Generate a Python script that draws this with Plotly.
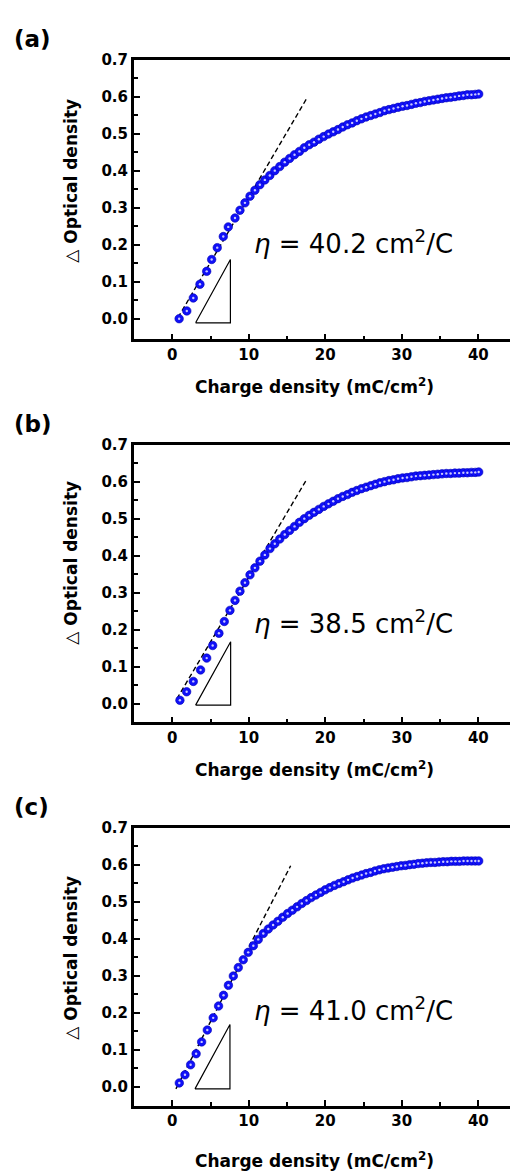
import plotly.graph_objects as go

W, H = 510, 1173

# ---- measured data: charge density (mC/cm^2) vs change in optical density ----
charge_a = [0.9, 1.9, 2.75, 3.62, 4.5, 5.15, 5.88, 6.67, 7.32, 8.2, 8.85, 9.5, 10.16, 10.8,
            11.45, 12.1, 12.75, 13.4, 14.05, 14.7, 15.34, 15.98, 16.62, 17.26, 17.9, 18.53,
            19.16, 19.79, 20.42, 21.04, 21.66, 22.28, 22.9, 23.51, 24.12, 24.73, 25.34, 25.94,
            26.54, 27.14, 27.74, 28.33, 28.92, 29.51, 30.1, 30.68, 31.26, 31.84, 32.42, 32.99,
            33.56, 34.13, 34.7, 35.26, 35.82, 36.38, 36.94, 37.49, 38.04, 38.57, 39.1, 39.6, 40.05]
od_a = [0.0, 0.021, 0.056, 0.093, 0.128, 0.160, 0.192, 0.222, 0.248, 0.272, 0.293, 0.313, 0.331, 0.347,
        0.362, 0.375, 0.387, 0.400, 0.411, 0.423, 0.433, 0.443, 0.452, 0.462, 0.470, 0.477,
        0.485, 0.492, 0.499, 0.505, 0.511, 0.518, 0.524, 0.529, 0.535, 0.540, 0.545, 0.549,
        0.553, 0.557, 0.562, 0.565, 0.568, 0.571, 0.574, 0.576, 0.579, 0.582, 0.584, 0.587,
        0.589, 0.591, 0.593, 0.595, 0.597, 0.598, 0.600, 0.602, 0.603, 0.605, 0.605, 0.606, 0.607]

charge_b = [1.0, 1.88, 2.75, 3.7, 4.5, 5.28, 6.1, 6.8, 7.54, 8.2, 8.85, 9.5, 10.16, 10.8,
            11.46, 12.1, 12.77, 13.4, 14.05, 14.7, 15.34, 15.98, 16.62, 17.26, 17.9, 18.53,
            19.16, 19.79, 20.42, 21.04, 21.66, 22.28, 22.9, 23.51, 24.12, 24.73, 25.34, 25.94,
            26.54, 27.14, 27.74, 28.33, 28.92, 29.51, 30.1, 30.68, 31.26, 31.84, 32.42, 32.99,
            33.56, 34.13, 34.7, 35.26, 35.82, 36.38, 36.94, 37.49, 38.04, 38.57, 39.1, 39.6, 40.05]
od_b = [0.009, 0.032, 0.060, 0.091, 0.123, 0.157, 0.190, 0.222, 0.252, 0.279, 0.304, 0.327, 0.348, 0.367,
        0.385, 0.402, 0.419, 0.432, 0.445, 0.457, 0.468, 0.479, 0.490, 0.500, 0.509, 0.517,
        0.525, 0.533, 0.540, 0.547, 0.554, 0.560, 0.565, 0.571, 0.576, 0.581, 0.585, 0.589,
        0.593, 0.597, 0.600, 0.603, 0.605, 0.608, 0.610, 0.611, 0.613, 0.615, 0.616, 0.617,
        0.618, 0.619, 0.620, 0.621, 0.622, 0.622, 0.623, 0.623, 0.624, 0.624, 0.625, 0.625, 0.626]

charge_c = [0.92, 1.66, 2.4, 3.12, 3.84, 4.58, 5.35, 6.05, 6.7, 7.34, 7.98, 8.63, 9.28, 9.93,
            10.6, 11.24, 11.9, 12.55, 13.18, 13.81, 14.44, 15.07, 15.69, 16.31, 16.93, 17.55,
            18.16, 18.77, 19.38, 19.99, 20.59, 21.19, 21.79, 22.39, 22.98, 23.57, 24.16, 24.75,
            25.33, 25.91, 26.49, 27.07, 27.64, 28.21, 28.78, 29.35, 29.91, 30.47, 31.03, 31.59,
            32.14, 32.69, 33.24, 33.79, 34.33, 34.87, 35.41, 35.95, 36.48, 37.01, 37.54, 38.07,
            38.59, 39.11, 39.6, 40.05]
od_c = [0.010, 0.032, 0.059, 0.089, 0.121, 0.153, 0.186, 0.218, 0.247, 0.274, 0.299, 0.322, 0.343, 0.363,
        0.381, 0.398, 0.414, 0.426, 0.437, 0.447, 0.458, 0.468, 0.477, 0.486, 0.495, 0.503,
        0.511, 0.518, 0.525, 0.532, 0.538, 0.544, 0.549, 0.554, 0.559, 0.564, 0.568, 0.572,
        0.576, 0.579, 0.583, 0.586, 0.589, 0.591, 0.593, 0.595, 0.597, 0.598, 0.600, 0.601,
        0.603, 0.604, 0.605, 0.606, 0.606, 0.607, 0.608, 0.608, 0.609, 0.609, 0.609, 0.610,
        0.610, 0.610, 0.610, 0.610]

# linear fits of the initial region (dashed)
fit_x_a = [0.75, 17.57]
fit_y_a = [0.003, 0.595]
fit_x_b = [0.6, 17.48]
fit_y_b = [0.013, 0.603]
fit_x_c = [0.48, 15.47]
fit_y_c = [-0.006, 0.597]

# slope triangles
tri_x_a = [3.05, 7.6, 7.6, 3.05]
tri_y_a = [-0.011, -0.011, 0.160, -0.011]
tri_x_b = [3.05, 7.63, 7.63, 3.05]
tri_y_b = [-0.004, -0.004, 0.167, -0.004]
tri_x_c = [2.97, 7.54, 7.54, 2.97]
tri_y_c = [-0.006, -0.006, 0.168, -0.006]

# coloration efficiency (cm^2/C)
eta_values = ["40.2", "38.5", "41.0"]
panel_tags = ["(a)", "(b)", "(c)"]

x_ticks = [0, 10, 20, 30, 40]
x_minor = [5, 15, 25, 35]
y_ticks = [0.0, 0.1, 0.2, 0.3, 0.4, 0.5, 0.6, 0.7]
y_minor = [0.05, 0.15, 0.25, 0.35, 0.45, 0.55, 0.65]

x_title = "Charge density (mC/cm<sup>2</sup>)"
y_title = "△ Optical density"

# ---- layout geometry (pixels from top of page) ----
plot_left = 134
panel_top = [51, 439, 825]
panel_bottom = [333, 719, 1105]
y_low = [-0.056, -0.051, -0.051]
x_range = [-5, 44.14]
x_title_y = [380, 766, 1160]
y_title_y = [173, 558, 956]
eta_text_y = [235, 618, 1008]

FONT = "DejaVu Sans"
BLUE = "#1010f8"

panels = [
    (charge_a, od_a, fit_x_a, fit_y_a, tri_x_a, tri_y_a),
    (charge_b, od_b, fit_x_b, fit_y_b, tri_x_b, tri_y_b),
    (charge_c, od_c, fit_x_c, fit_y_c, tri_x_c, tri_y_c),
]

fig = go.Figure()
annotations = []
layout_axes = {}

for i, (cx, cy, fx, fy, tx, ty) in enumerate(panels):
    sfx = "" if i == 0 else str(i + 1)
    xref, yref = "x" + sfx, "y" + sfx

    fig.add_trace(go.Scatter(x=fx, y=fy, mode="lines", xaxis=xref, yaxis=yref,
                             line=dict(color="black", width=1.4, dash="5px,3px"),
                             showlegend=False, hoverinfo="skip"))
    fig.add_trace(go.Scatter(x=tx, y=ty, mode="lines", xaxis=xref, yaxis=yref,
                             line=dict(color="black", width=1.2),
                             showlegend=False, hoverinfo="skip"))
    fig.add_trace(go.Scatter(x=cx, y=cy, mode="markers", xaxis=xref, yaxis=yref,
                             marker=dict(size=8.5, color=BLUE,
                                         line=dict(color="#0000b4", width=0.6)),
                             showlegend=False))
    # glossy highlight on each sphere
    fig.add_trace(go.Scatter(x=cx, y=cy, mode="markers", xaxis=xref, yaxis=yref,
                             marker=dict(size=2.4, color="#c8c8ff"),
                             showlegend=False, hoverinfo="skip"))

    top, bot = panel_top[i], panel_bottom[i]
    ydom = [1 - bot / H, 1 - top / H]
    layout_axes["xaxis" + sfx] = dict(
        domain=[plot_left / W, 1], anchor=yref, range=x_range,
        tickvals=x_ticks, ticks="inside", ticklen=6, tickwidth=2, tickcolor="black",
        minor=dict(tickvals=x_minor, ticks="inside", ticklen=3.5, tickwidth=2, tickcolor="black"),
        showline=True, linewidth=2.5, linecolor="black", mirror=True,
        showgrid=False, zeroline=False,
        tickfont=dict(family=FONT, size=15, color="black", weight="bold"),
    )
    layout_axes["yaxis" + sfx] = dict(
        domain=ydom, anchor=xref, range=[y_low[i], 0.7],
        tickvals=y_ticks, tickformat=".1f", ticks="inside", ticklen=6, tickwidth=2,
        tickcolor="black",
        minor=dict(tickvals=y_minor, ticks="inside", ticklen=3.5, tickwidth=2, tickcolor="black"),
        showline=True, linewidth=3, linecolor="black", mirror=False,
        showgrid=False, zeroline=False,
        tickfont=dict(family=FONT, size=15, color="black", weight="bold"),
    )

    annotations.append(dict(text=x_title, xref="paper", yref="paper",
                            x=314 / W, y=1 - x_title_y[i] / H, xanchor="center", yanchor="middle",
                            showarrow=False,
                            font=dict(family=FONT, size=17, color="black", weight="bold")))
    annotations.append(dict(text=y_title, xref="paper", yref="paper", textangle=-90,
                            x=71 / W, y=1 - y_title_y[i] / H, xanchor="center", yanchor="middle",
                            showarrow=False,
                            font=dict(family=FONT, size=17, color="black", weight="bold")))
    annotations.append(dict(text=panel_tags[i], xref="paper", yref="paper",
                            x=12 / W, y=1 - (top - 21) / H, xanchor="left", yanchor="middle",
                            showarrow=False,
                            font=dict(family=FONT, size=23, color="black", weight="bold")))
    annotations.append(dict(text="<i>η</i> = " + eta_values[i] + " cm<sup>2</sup>/C",
                            xref="paper", yref="paper",
                            x=252 / W, y=1 - eta_text_y[i] / H, xanchor="left", yanchor="middle",
                            showarrow=False,
                            font=dict(family=FONT, size=26, color="black")))

fig.update_layout(
    width=W, height=H,
    margin=dict(l=0, r=0, t=0, b=0),
    paper_bgcolor="white", plot_bgcolor="white",
    annotations=annotations,
    **layout_axes,
)

fig.write_html("out.html")
